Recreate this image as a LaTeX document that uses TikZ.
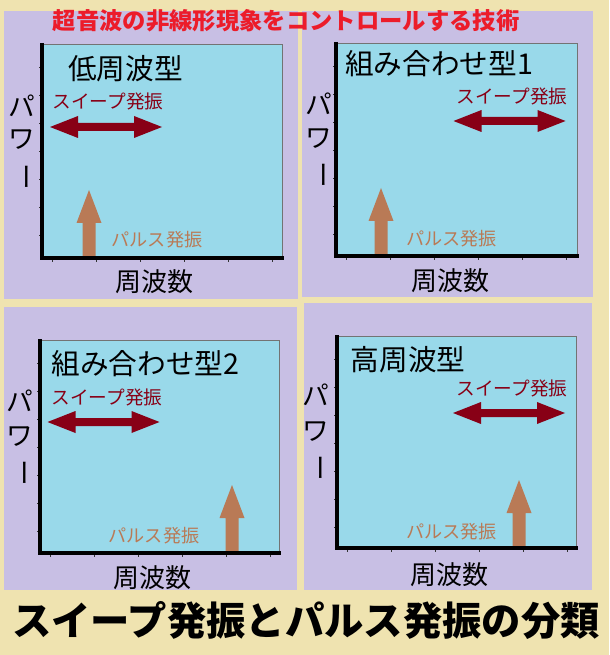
\documentclass[tikz,border=0pt]{standalone}
\usepackage{fontspec}
\setmainfont{Noto Sans CJK JP}
\definecolor{beige}{HTML}{EFE3B0}
\definecolor{lav}{HTML}{C8BFE4}
\definecolor{plotcol}{HTML}{99D9EA}
\definecolor{sweepcol}{HTML}{880016}
\definecolor{pulsecol}{HTML}{B97A56}
\definecolor{redtitle}{HTML}{EC1C2A}
\tikzset{
  plotedge/.style={draw=black!55, line width=0.5pt},
  axisline/.style={draw=black, line width=3pt, line join=miter},
  tickline/.style={draw=black!80, line width=0.6pt},
  paneltitle/.style={inner sep=0, font=\fontsize{21.5pt}{24pt}\selectfont},
  powerlbl/.style={inner sep=0, font=\fontsize{20pt}{22pt}\selectfont},
  freqlbl/.style={inner sep=0, font=\fontsize{19.5pt}{22pt}\selectfont},
  sweeplbl/.style={inner sep=0, text=sweepcol, font=\fontsize{14pt}{16pt}\selectfont},
  pulselbl/.style={inner sep=0, text=pulsecol, font=\fontsize{13.6pt}{16pt}\selectfont},
  sweeparrow/.pic={\fill[sweepcol] (-56,0) -- (-28,-11) -- (-28,-4) -- (28,-4) -- (28,-11) -- (56,0) -- (28,11) -- (28,4) -- (-28,4) -- (-28,11) -- cycle;},
  pulsearrow/.pic={\fill[pulsecol] (-6.5,0) -- (-6.5,-35) -- (-12.5,-35) -- (0,-68) -- (12.5,-35) -- (6.5,-35) -- (6.5,0) -- cycle;}
}
\newcommand\plotbox[4]{%
  \fill[plotcol] (#1,#2) rectangle (#3,#4);
  \draw[plotedge] (#1,#2) rectangle (#3,#4);
}
\newcommand\plotaxes[4]{%
  \foreach \i in {0,...,6} \draw[tickline] (#1,{#2+23+28*\i}) -- ++(-3.5,0);
  \foreach \i in {0,...,5} \draw[tickline] ({#1+10+44*\i},#4) -- ++(0,4);
  \draw[axisline] (#1,#2-1) -- (#1,#4) -- (#3+1.5,#4);
}
\begin{document}
\begin{tikzpicture}[x=0.75pt,y=-0.75pt]
\useasboundingbox (0,0) rectangle (609,655);
\fill[beige] (0,0) rectangle (609,655);
\fill[lav] (4,11) rectangle (298,299);
\fill[lav] (302,11) rectangle (593,297);
\fill[lav] (4,307) rectangle (297,590);
\fill[lav] (304,303) rectangle (592,590);

% panel 1
\plotbox{42}{44}{282}{258}
\pic at (106,127) {sweeparrow};
\pic at (89,258) {pulsearrow};
\plotaxes{42}{44}{282}{258}
\node[paneltitle] (t1) at (125.5,68.5) {低周波型};
\node[sweeplbl] (s1) at (108,101) {スイープ発振};
\node[pulselbl] (p1) at (157,240) {パルス発振};
\node[powerlbl] (a1) at (22,106) {パ};
\node[powerlbl] (b1) at (22,140) {ワ};
\node[powerlbl, rotate=-90] (c1) at (22,177) {ー};
\node[freqlbl] (f1) at (154,282) {周波数};

% panel 2
\plotbox{336}{43}{577}{256}
\pic at (509.5,121) {sweeparrow};
\pic at (381,256) {pulsearrow};
\plotaxes{336}{43}{577}{256}
\node[paneltitle] (t2) at (439,64) {組み合わせ型1};
\node[sweeplbl] (s2) at (512,96) {スイープ発振};
\node[pulselbl] (p2) at (451.5,239) {パルス発振};
\node[powerlbl] (a2) at (319,104) {パ};
\node[powerlbl] (b2) at (319,139) {ワ};
\node[powerlbl, rotate=-90] (c2) at (319,175) {ー};
\node[freqlbl] (f2) at (450,281) {周波数};

% panel 3
\plotbox{40}{340}{279}{553}
\pic at (103.5,422) {sweeparrow};
\pic at (232,553) {pulsearrow};
\plotaxes{40}{340}{279}{553}
\node[paneltitle] (t3) at (145.5,364) {組み合わせ型2};
\node[sweeplbl] (s3) at (107,397) {スイープ発振};
\node[pulselbl] (p3) at (154,536) {パルス発振};
\node[powerlbl] (a3) at (20,401) {パ};
\node[powerlbl] (b3) at (20,437) {ワ};
\node[powerlbl, rotate=-90] (c3) at (20,473) {ー};
\node[freqlbl] (f3) at (152.5,578) {周波数};

% panel 4
\plotbox{337}{336}{576}{548}
\pic at (509,413) {sweeparrow};
\pic at (519,548) {pulsearrow};
\plotaxes{337}{336}{576}{548}
\node[paneltitle] (t4) at (408,360) {高周波型};
\node[sweeplbl] (s4) at (512,388) {スイープ発振};
\node[pulselbl] (p4) at (451.5,532) {パルス発振};
\node[powerlbl] (a4) at (316,395) {パ};
\node[powerlbl] (b4) at (316,432) {ワ};
\node[powerlbl, rotate=-90] (c4) at (316,468) {ー};
\node[freqlbl] (f4) at (449.5,575) {周波数};

% titles
\node[inner sep=0, text=redtitle, font=\fontsize{17.5pt}{20pt}\selectfont\bfseries] (top) at (286,21) {超音波の非線形現象をコントロールする技術};
\node[inner sep=0, font=\fontsize{29.5pt}{32pt}\selectfont\bfseries] (bottom) at (306,620) {スイープ発振とパルス発振の分類};
\end{tikzpicture}
\end{document}
